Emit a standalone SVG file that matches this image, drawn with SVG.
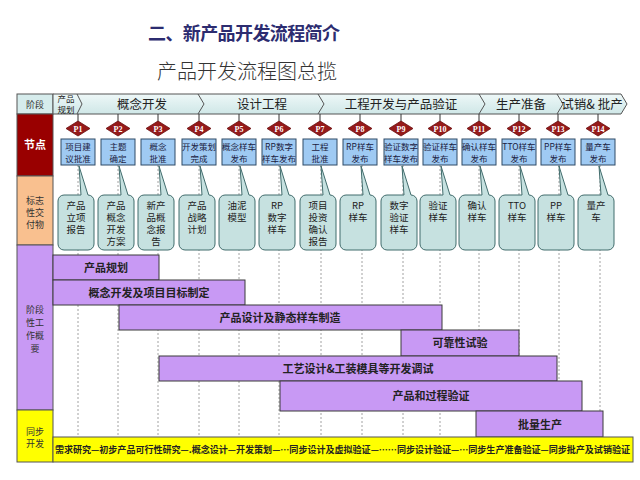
<svg xmlns="http://www.w3.org/2000/svg" width="640" height="480" viewBox="0 0 640 480">
<defs>
<linearGradient id="phaseG" x1="0" y1="0" x2="0" y2="1">
<stop offset="0" stop-color="#eef8f8"/>
<stop offset="1" stop-color="#cfe7e7"/>
</linearGradient>
<style>
text{font-family:"Noto Sans CJK SC","Liberation Sans",sans-serif;}
.lbl{font-size:9px;fill:#333;text-anchor:middle;}
.ph{font-size:12.5px;fill:#222;text-anchor:middle;}
.dia{fill:#961a1a;stroke:#6a0f0f;stroke-width:0.8;}
.dt{font-family:"Liberation Serif",serif;font-weight:bold;font-size:8px;fill:#fff;text-anchor:middle;}
.nb{fill:#9fcaf3;stroke:#2f4a66;stroke-width:1;}
.nt{font-size:8.5px;fill:#1a1a40;text-anchor:middle;}
.bub{fill:#c6e1e0;stroke:#416c6c;stroke-width:1;}
.bt{font-size:9.5px;fill:#222;text-anchor:middle;}
.dash{stroke:#8a8a8a;stroke-width:0.8;stroke-dasharray:2,2;fill:none;}
.stem{stroke:#333;stroke-width:1;}
.bar{fill:#c899f4;stroke:#3a3a3a;stroke-width:1;}
.barT{font-size:11px;font-weight:bold;fill:#222;text-anchor:middle;}
.sep{fill:none;stroke:#555;stroke-width:1;}
</style>
</defs>
<rect width="640" height="480" fill="#fff"/>

<text x="148" y="40" font-size="18" font-weight="bold" fill="#2c2c70" textLength="192">二、新产品开发流程简介</text>
<text x="157" y="79" font-size="20" font-weight="300" fill="#333" textLength="180">产品开发流程图总揽</text>

<!-- left column -->
<g id="rowlabels">
<rect x="17" y="94" width="36" height="20" fill="#d6ecec" stroke="#555"/>
<text class="lbl" x="35" y="107.5" font-size="9.5">阶段</text>
<rect x="17" y="114" width="36" height="62" fill="#990000" stroke="#555"/>
<text x="35" y="149" font-size="11" font-weight="bold" fill="#fff" text-anchor="middle">节点</text>
<rect x="17" y="176" width="36" height="69" fill="#f9c08f" stroke="#555"/>
<text class="lbl" x="35" y="204">标志</text>
<text class="lbl" x="35" y="216">性交</text>
<text class="lbl" x="35" y="228">付物</text>
<rect x="17" y="245" width="36" height="165" fill="#c899f4" stroke="#555"/>
<text class="lbl" x="35" y="313">阶段</text>
<text class="lbl" x="35" y="326">性工</text>
<text class="lbl" x="35" y="339">作概</text>
<text class="lbl" x="35" y="352">要</text>
<rect x="17" y="410" width="36" height="52" fill="#ffff00" stroke="#555"/>
<text class="lbl" x="35" y="435">同步</text>
<text class="lbl" x="35" y="447">开发</text>
</g>

<!-- phase row -->
<g id="phases">
<polygon points="53,94 621,94 627,104 621,114 53,114" fill="url(#phaseG)" stroke="#555"/>
<polyline class="sep" points="77,94 82,104 77,114"/>
<polyline class="sep" points="198,94 204,104 198,114"/>
<polyline class="sep" points="318,94 324,104 318,114"/>
<polyline class="sep" points="479,94 485,104 479,114"/>
<polyline class="sep" points="557,94 563,104 557,114"/>
<text x="66" y="102" font-size="8.5" fill="#222" text-anchor="middle">产品</text>
<text x="66" y="112.5" font-size="8.5" fill="#222" text-anchor="middle">规划</text>
<text class="ph" x="142" y="109">概念开发</text>
<text class="ph" x="262" y="109">设计工程</text>
<text class="ph" x="401" y="109">工程开发与产品验证</text>
<text class="ph" x="521" y="109">生产准备</text>
<text class="ph" x="592" y="109">试销&amp; 批产</text>
</g>

<!-- connectors: stems and dashed guide lines -->
<g id="connectors">
<line class="stem" x1="78" y1="114" x2="78" y2="122"/>
<line class="stem" x1="118" y1="114" x2="118" y2="122"/>
<line class="stem" x1="158" y1="114" x2="158" y2="122"/>
<line class="stem" x1="199" y1="114" x2="199" y2="122"/>
<line class="stem" x1="239" y1="114" x2="239" y2="122"/>
<line class="stem" x1="279" y1="114" x2="279" y2="122"/>
<line class="stem" x1="320" y1="114" x2="320" y2="122"/>
<line class="stem" x1="360" y1="114" x2="360" y2="122"/>
<line class="stem" x1="401" y1="114" x2="401" y2="122"/>
<line class="stem" x1="440" y1="114" x2="440" y2="122"/>
<line class="stem" x1="479" y1="114" x2="479" y2="122"/>
<line class="stem" x1="519" y1="114" x2="519" y2="122"/>
<line class="stem" x1="558" y1="114" x2="558" y2="122"/>
<line class="stem" x1="598" y1="114" x2="598" y2="122"/>
<line class="dash" x1="78" y1="165" x2="78" y2="437"/>
<line class="dash" x1="118" y1="165" x2="118" y2="437"/>
<line class="dash" x1="158" y1="165" x2="158" y2="437"/>
<line class="dash" x1="199" y1="165" x2="199" y2="437"/>
<line class="dash" x1="239" y1="165" x2="239" y2="437"/>
<line class="dash" x1="279" y1="165" x2="279" y2="437"/>
<line class="dash" x1="321" y1="165" x2="321" y2="437"/>
<line class="dash" x1="362" y1="165" x2="362" y2="437"/>
<line class="dash" x1="403" y1="165" x2="403" y2="437"/>
<line class="dash" x1="440" y1="165" x2="440" y2="437"/>
<line class="dash" x1="479" y1="165" x2="479" y2="437"/>
<line class="dash" x1="519" y1="165" x2="519" y2="437"/>
<line class="dash" x1="559" y1="165" x2="559" y2="437"/>
<line class="dash" x1="600" y1="165" x2="600" y2="437"/>
</g>

<!-- nodes -->
<g id="P1"><polygon class="dia" points="78,121 90,128.5 78,136 66,128.5"/><text class="dt" x="78" y="131.5">P1</text>
<rect class="nb" x="61" y="139" width="34" height="26"/><text class="nt" x="78" y="150">项目建</text><text class="nt" x="78" y="162">议批准</text>
<path class="bub" d="M64,195 H81 L79,166 L88,195 A6,6 0 0 1 94,201 V244 A6,6 0 0 1 88,250 H64 A6,6 0 0 1 58,244 V201 A6,6 0 0 1 64,195 Z"/>
<text class="bt" x="76" y="208.5">产品</text><text class="bt" x="76" y="220.5">立项</text><text class="bt" x="76" y="232.5">报告</text></g>

<g id="P2"><polygon class="dia" points="118,121 130,128.5 118,136 106,128.5"/><text class="dt" x="118" y="131.5">P2</text>
<rect class="nb" x="101" y="139" width="34" height="26"/><text class="nt" x="118" y="150">主题</text><text class="nt" x="118" y="162">确定</text>
<path class="bub" d="M104,195 H121 L119,166 L128,195 A6,6 0 0 1 134,201 V244 A6,6 0 0 1 128,250 H104 A6,6 0 0 1 98,244 V201 A6,6 0 0 1 104,195 Z"/>
<text class="bt" x="116" y="208.5">产品</text><text class="bt" x="116" y="220.5">概念</text><text class="bt" x="116" y="232.5">开发</text><text class="bt" x="116" y="244.5">方案</text></g>

<g id="P3"><polygon class="dia" points="158,121 170,128.5 158,136 146,128.5"/><text class="dt" x="158" y="131.5">P3</text>
<rect class="nb" x="141" y="139" width="34" height="26"/><text class="nt" x="158" y="150">概念</text><text class="nt" x="158" y="162">批准</text>
<path class="bub" d="M144,195 H161 L159,166 L168,195 A6,6 0 0 1 174,201 V244 A6,6 0 0 1 168,250 H144 A6,6 0 0 1 138,244 V201 A6,6 0 0 1 144,195 Z"/>
<text class="bt" x="156" y="208.5">新产</text><text class="bt" x="156" y="220.5">品概</text><text class="bt" x="156" y="232.5">念报</text><text class="bt" x="156" y="244.5">告</text></g>

<g id="P4"><polygon class="dia" points="199,121 211,128.5 199,136 187,128.5"/><text class="dt" x="199" y="131.5">P4</text>
<rect class="nb" x="182" y="139" width="34" height="26"/><text class="nt" x="199" y="150" font-size="8.2">开发策划</text><text class="nt" x="199" y="162">完成</text>
<path class="bub" d="M185,195 H202 L200,166 L209,195 A6,6 0 0 1 215,201 V244 A6,6 0 0 1 209,250 H185 A6,6 0 0 1 179,244 V201 A6,6 0 0 1 185,195 Z"/>
<text class="bt" x="197" y="208.5">产品</text><text class="bt" x="197" y="220.5">战略</text><text class="bt" x="197" y="232.5">计划</text></g>

<g id="P5"><polygon class="dia" points="239,121 251,128.5 239,136 227,128.5"/><text class="dt" x="239" y="131.5">P5</text>
<rect class="nb" x="222" y="139" width="34" height="26"/><text class="nt" x="239" y="150" font-size="8.2">概念样车</text><text class="nt" x="239" y="162">发布</text>
<path class="bub" d="M225,195 H242 L240,166 L249,195 A6,6 0 0 1 255,201 V244 A6,6 0 0 1 249,250 H225 A6,6 0 0 1 219,244 V201 A6,6 0 0 1 225,195 Z"/>
<text class="bt" x="237" y="208.5">油泥</text><text class="bt" x="237" y="220.5">模型</text></g>

<g id="P6"><polygon class="dia" points="279,121 291,128.5 279,136 267,128.5"/><text class="dt" x="279" y="131.5">P6</text>
<rect class="nb" x="262" y="139" width="34" height="26"/><text class="nt" x="279" y="150">RP数字</text><text class="nt" x="279" y="162" font-size="8.2">样车发布</text>
<path class="bub" d="M265,195 H282 L280,166 L289,195 A6,6 0 0 1 295,201 V244 A6,6 0 0 1 289,250 H265 A6,6 0 0 1 259,244 V201 A6,6 0 0 1 265,195 Z"/>
<text class="bt" x="277" y="208.5">RP</text><text class="bt" x="277" y="220.5">数字</text><text class="bt" x="277" y="232.5">样车</text></g>

<g id="P7"><polygon class="dia" points="320,121 332,128.5 320,136 308,128.5"/><text class="dt" x="320" y="131.5">P7</text>
<rect class="nb" x="303" y="139" width="34" height="26"/><text class="nt" x="320" y="150">工程</text><text class="nt" x="320" y="162">批准</text>
<path class="bub" d="M306,195 H323 L321,166 L330,195 A6,6 0 0 1 336,201 V244 A6,6 0 0 1 330,250 H306 A6,6 0 0 1 300,244 V201 A6,6 0 0 1 306,195 Z"/>
<text class="bt" x="318" y="208.5">项目</text><text class="bt" x="318" y="220.5">投资</text><text class="bt" x="318" y="232.5">确认</text><text class="bt" x="318" y="244.5">报告</text></g>

<g id="P8"><polygon class="dia" points="360,121 372,128.5 360,136 348,128.5"/><text class="dt" x="360" y="131.5">P8</text>
<rect class="nb" x="343" y="139" width="34" height="26"/><text class="nt" x="360" y="150">RP样车</text><text class="nt" x="360" y="162">发布</text>
<path class="bub" d="M346,195 H363 L361,166 L370,195 A6,6 0 0 1 376,201 V244 A6,6 0 0 1 370,250 H346 A6,6 0 0 1 340,244 V201 A6,6 0 0 1 346,195 Z"/>
<text class="bt" x="358" y="208.5">RP</text><text class="bt" x="358" y="220.5">样车</text></g>

<g id="P9"><polygon class="dia" points="401,121 413,128.5 401,136 389,128.5"/><text class="dt" x="401" y="131.5">P9</text>
<rect class="nb" x="384" y="139" width="34" height="26"/><text class="nt" x="401" y="150" font-size="8.2">验证数字</text><text class="nt" x="401" y="162" font-size="8.2">样车发布</text>
<path class="bub" d="M387,195 H404 L402,166 L411,195 A6,6 0 0 1 417,201 V244 A6,6 0 0 1 411,250 H387 A6,6 0 0 1 381,244 V201 A6,6 0 0 1 387,195 Z"/>
<text class="bt" x="399" y="208.5">数字</text><text class="bt" x="399" y="220.5">验证</text><text class="bt" x="399" y="232.5">样车</text></g>

<g id="P10"><polygon class="dia" points="440,121 452,128.5 440,136 428,128.5"/><text class="dt" x="440" y="131.5">P10</text>
<rect class="nb" x="423" y="139" width="34" height="26"/><text class="nt" x="440" y="150" font-size="8.2">验证样车</text><text class="nt" x="440" y="162">发布</text>
<path class="bub" d="M426,195 H443 L441,166 L450,195 A6,6 0 0 1 456,201 V244 A6,6 0 0 1 450,250 H426 A6,6 0 0 1 420,244 V201 A6,6 0 0 1 426,195 Z"/>
<text class="bt" x="438" y="208.5">验证</text><text class="bt" x="438" y="220.5">样车</text></g>

<g id="P11"><polygon class="dia" points="479,121 491,128.5 479,136 467,128.5"/><text class="dt" x="479" y="131.5">P11</text>
<rect class="nb" x="462" y="139" width="34" height="26"/><text class="nt" x="479" y="150" font-size="8.2">确认样车</text><text class="nt" x="479" y="162">发布</text>
<path class="bub" d="M465,195 H482 L480,166 L489,195 A6,6 0 0 1 495,201 V244 A6,6 0 0 1 489,250 H465 A6,6 0 0 1 459,244 V201 A6,6 0 0 1 465,195 Z"/>
<text class="bt" x="477" y="208.5">确认</text><text class="bt" x="477" y="220.5">样车</text></g>

<g id="P12"><polygon class="dia" points="519,121 531,128.5 519,136 507,128.5"/><text class="dt" x="519" y="131.5">P12</text>
<rect class="nb" x="502" y="139" width="34" height="26"/><text class="nt" x="519" y="150">TTO样车</text><text class="nt" x="519" y="162">发布</text>
<path class="bub" d="M505,195 H522 L520,166 L529,195 A6,6 0 0 1 535,201 V244 A6,6 0 0 1 529,250 H505 A6,6 0 0 1 499,244 V201 A6,6 0 0 1 505,195 Z"/>
<text class="bt" x="517" y="208.5">TTO</text><text class="bt" x="517" y="220.5">样车</text></g>

<g id="P13"><polygon class="dia" points="558,121 570,128.5 558,136 546,128.5"/><text class="dt" x="558" y="131.5">P13</text>
<rect class="nb" x="541" y="139" width="34" height="26"/><text class="nt" x="558" y="150">PP样车</text><text class="nt" x="558" y="162">发布</text>
<path class="bub" d="M544,195 H561 L559,166 L568,195 A6,6 0 0 1 574,201 V244 A6,6 0 0 1 568,250 H544 A6,6 0 0 1 538,244 V201 A6,6 0 0 1 544,195 Z"/>
<text class="bt" x="556" y="208.5">PP</text><text class="bt" x="556" y="220.5">样车</text></g>

<g id="P14"><polygon class="dia" points="598,121 610,128.5 598,136 586,128.5"/><text class="dt" x="598" y="131.5">P14</text>
<rect class="nb" x="581" y="139" width="34" height="26"/><text class="nt" x="598" y="150">量产车</text><text class="nt" x="598" y="162">发布</text>
<path class="bub" d="M584,195 H601 L599,166 L608,195 A6,6 0 0 1 614,201 V244 A6,6 0 0 1 608,250 H584 A6,6 0 0 1 578,244 V201 A6,6 0 0 1 584,195 Z"/>
<text class="bt" x="596" y="208.5">量产</text><text class="bt" x="596" y="220.5">车</text></g>

<!-- work bars -->
<g id="bars">
<rect class="bar" x="53" y="255" width="106" height="25"/><text class="barT" x="106" y="272">产品规划</text>
<rect class="bar" x="53" y="280" width="192" height="25"/><text class="barT" x="149" y="297">概念开发及项目目标制定</text>
<rect class="bar" x="119" y="305" width="323" height="25"/><text class="barT" x="280" y="322">产品设计及静态样车制造</text>
<rect class="bar" x="401" y="330" width="118" height="26"/><text class="barT" x="460" y="347">可靠性试验</text>
<rect class="bar" x="159" y="356" width="398" height="25"/><text class="barT" x="358" y="373">工艺设计&amp;工装模具等开发调试</text>
<rect class="bar" x="280" y="381" width="302" height="30"/><text class="barT" x="431" y="400">产品和过程验证</text>
<rect class="bar" x="476" y="411" width="127" height="26"/><text class="barT" x="540" y="429">批量生产</text>
</g>

<g id="sync">
<rect x="53" y="437" width="580" height="25" fill="#ffff00" stroke="#555"/>
<text x="55" y="453" font-size="8.9" font-weight="bold" fill="#222" textLength="575" lengthAdjust="spacingAndGlyphs">需求研究—初步产品可行性研究—.概念设计—开发策划—…同步设计及虚拟验证—……同步设计验证—…同步生产准备验证—同步批产及试销验证</text>
</g>
</svg>
